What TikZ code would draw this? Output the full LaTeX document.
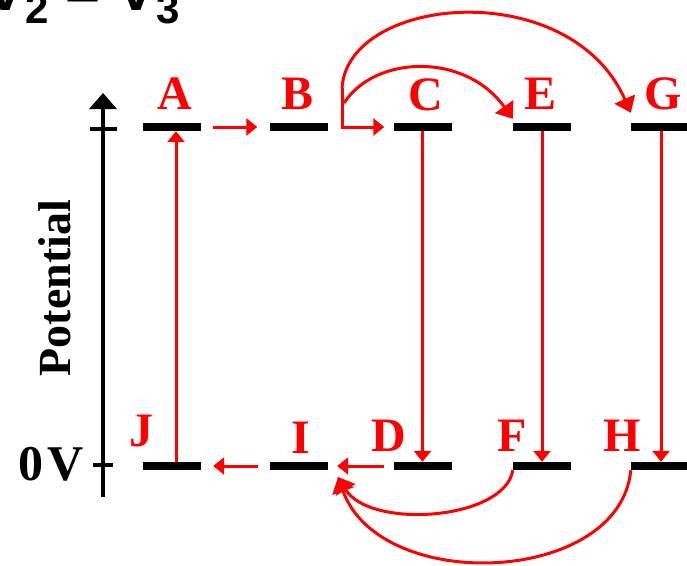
\documentclass[tikz,border=0pt]{standalone}
\usepackage{fontspec}
\setmainfont{Liberation Serif}
\newfontfamily\sansfam{Liberation Sans}
\usetikzlibrary{arrows.meta,calc}
\begin{document}
\begin{tikzpicture}[x=1pt,y=-1pt,
  level/.style={rectangle,fill=black,draw=none,minimum width=58pt,minimum height=8pt,inner sep=0pt},
  lab/.style={text=red,font=\fontsize{48}{48}\selectfont\bfseries,inner sep=0pt,anchor=base},
  conn/.style={red,line width=3pt,-{Triangle[length=11pt,width=17pt]}},
  arcc/.style={red,line width=3pt,-{Triangle[length=15pt,width=22pt]}},
  axisline/.style={black,line width=3.5pt},
  tickline/.style={black,line width=4pt}]
\useasboundingbox (0,0) rectangle (687,565);
\clip (0,0) rectangle (687,565);
\fill[white] (0,0) rectangle (687,565);

% title (cut off at top)
\node[font=\sansfam\bfseries\fontsize{60}{60}\selectfont,anchor=base west,inner sep=0pt] (title) at (-15,10)
  {V\raisebox{-13pt}{\fontsize{42}{42}\selectfont 2} = V\raisebox{-13pt}{\fontsize{42}{42}\selectfont 3}};

% axis
\coordinate (axT) at (103,93);
\coordinate (axB) at (103,497);
\draw[axisline,-{Triangle[length=16pt,width=27pt]}] (axB) -- (axT);
\coordinate (t1a) at (90,129); \coordinate (t1b) at (117,129);
\coordinate (t2a) at (93,465); \coordinate (t2b) at (113,465);
\draw[tickline] (t1a) -- (t1b);
\draw[tickline] (t2a) -- (t2b);

\node[font=\fontsize{46}{46}\selectfont\bfseries,rotate=90,anchor=base,inner sep=0pt] (pot) at (70,288) {Potential};
\node[font=\fontsize{50}{50}\selectfont\bfseries,anchor=base,inner sep=0pt] (zero) at (51,480) {0\hspace{4pt}V};

% levels
\node[level] (A) at (172,127) {};
\node[level] (B) at (298.5,127) {};
\node[level] (C) at (422.5,127) {};
\node[level] (E) at (542,127) {};
\node[level] (G) at (660,127) {};
\node[level] (J) at (172,466) {};
\node[level] (I) at (299,466) {};
\node[level] (D) at (422.5,466) {};
\node[level] (F) at (542,466) {};
\node[level] (H) at (660,466) {};

% labels
\node[lab] (lA) at (175,109) {A};
\node[lab] (lB) at (298,109) {B};
\node[lab] (lC) at (426,110) {C};
\node[lab] (lE) at (540,109) {E};
\node[lab] (lG) at (663,109) {G};
\node[lab] (lJ) at (141,446) {J};
\node[lab] (lI) at (301,453) {I};
\node[lab] (lD) at (389,451) {D};
\node[lab] (lF) at (512,451) {F};
\node[lab] (lH) at (622,451) {H};

% vertical connectors
\draw[conn] ([xshift=4pt]J.north) -- ([xshift=4pt]A.south);
\draw[conn] (C.south) -- (D.north);
\draw[conn] (E.south) -- (F.north);
\draw[conn] ([xshift=1pt]G.south) -- ([xshift=1pt]H.north);

% top horizontal
\draw[conn] ([xshift=12pt]A.east) -- ([xshift=-12pt]B.west);
\coordinate (Bj) at (342,88);
\coordinate (Bk) at (344,103);
\draw[conn] (Bj) |- ([xshift=-9pt]C.west);
\draw[arcc] (Bk) .. controls (375,55) and (465,52) .. ([yshift=4pt]E.north west);
\draw[arcc] (Bj) .. controls (348,-5) and (570,-25) .. ([yshift=10pt]G.north west);

% bottom horizontal
\draw[conn] ([xshift=-9pt]D.west) -- ([xshift=9pt]I.east);
\draw[conn] ([xshift=-12pt]I.west) -- ([xshift=12pt]J.east);
\coordinate (Ij) at (338,477);
\draw[arcc] (F.south west) .. controls (505,520) and (370,530) .. (Ij);
\draw[arcc] (H.south west) .. controls (620,585) and (380,595) .. (Ij);
\end{tikzpicture}
\end{document}
